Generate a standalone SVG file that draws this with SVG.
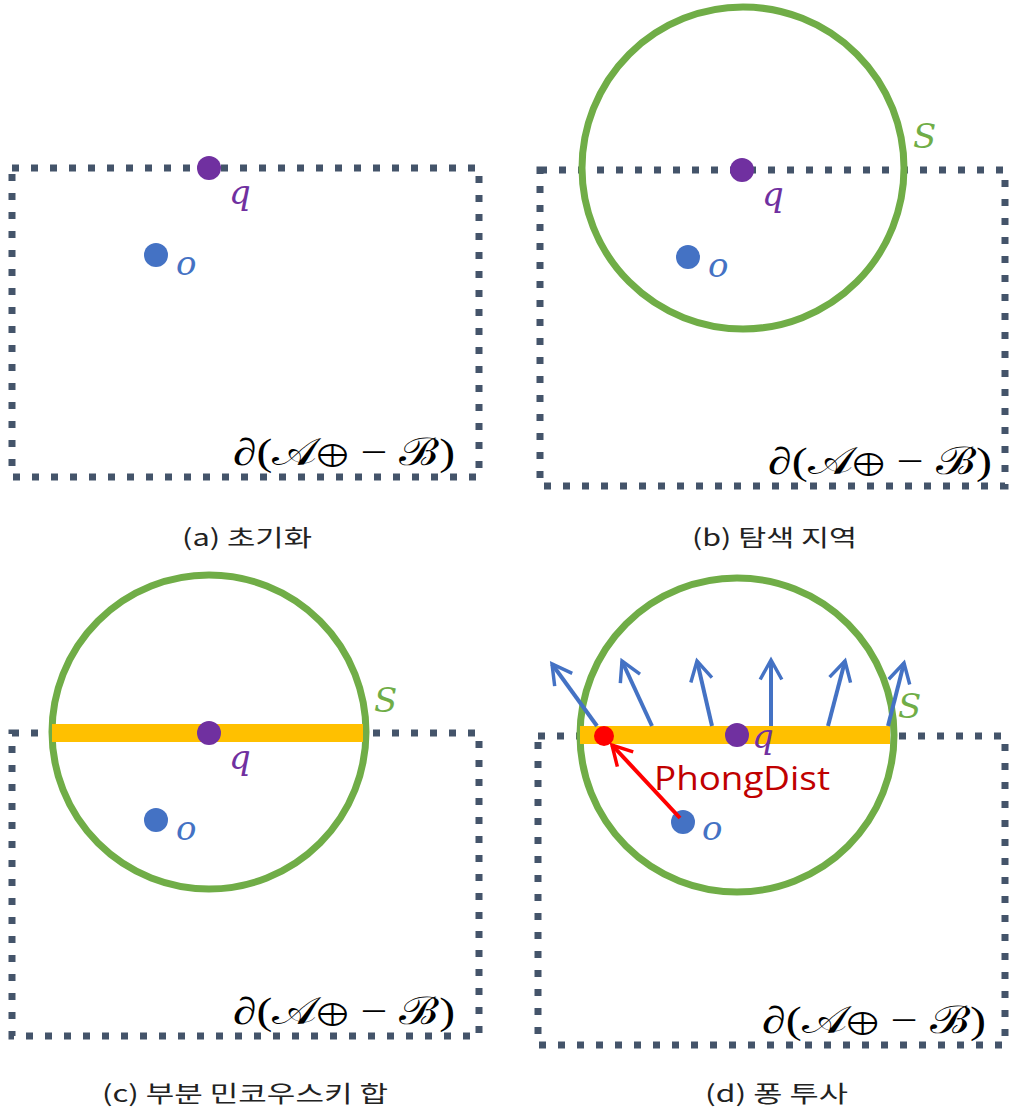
<svg xmlns="http://www.w3.org/2000/svg" width="1020" height="1112" viewBox="0 0 1020 1112">
<defs>
<style>
.box{fill:none;stroke:#44546A;stroke-width:7;stroke-dasharray:7 12}
.circ{fill:none;stroke:#70AD47;stroke-width:7}
.bar{fill:#FFC000}
.qdot{fill:#7030A0}
.odot{fill:#4472C4}
.mi{font-family:"DejaVu Serif","Liberation Serif",serif;font-style:italic;font-size:34px}
.ql{fill:#7030A0}
.ol{fill:#4472C4}
.sl{fill:#70AD47}
.math{font-family:"Liberation Serif","DejaVu Serif",serif;font-size:38px;font-weight:normal;fill:#000}
.lt{font-family:"DejaVu Sans","Liberation Serif",serif;font-weight:200}
.cap{font-family:"Noto Sans CJK KR","Noto Sans",sans-serif;font-size:23px;fill:#222}
.nrm{fill:none;stroke:#4472C4;stroke-width:4}
.red{fill:none;stroke:#FF0000;stroke-width:4}
</style>
<marker id="ab" viewBox="0 0 12 12" refX="10" refY="6" markerWidth="6.5" markerHeight="6.5" orient="auto" markerUnits="strokeWidth">
<path d="M1,1 L10,6 L1,11" fill="none" stroke="#4472C4" stroke-width="1.6"/>
</marker>
<marker id="ar" viewBox="0 0 12 12" refX="10" refY="6" markerWidth="6.5" markerHeight="6.5" orient="auto" markerUnits="strokeWidth">
<path d="M1,1 L10,6 L1,11" fill="none" stroke="#FF0000" stroke-width="1.6"/>
</marker>
</defs>
<rect width="1020" height="1112" fill="#fff"/>

<!-- (a) -->
<g id="panel-a">
<rect class="box" x="12" y="168" width="467" height="309"/>
<g id="a-q"><circle class="qdot" cx="209" cy="168" r="12"/><text class="mi ql" x="229" y="204">q</text></g>
<g id="a-o"><circle class="odot" cx="156" cy="255" r="12"/><text class="mi ol" x="176" y="275">o</text></g>
<text class="math" x="233" y="465" textLength="222" lengthAdjust="spacingAndGlyphs">∂(<tspan class="lt">𝒜⊕</tspan> − <tspan class="lt">ℬ</tspan>)</text>
<text class="cap" x="182" y="546" textLength="130" lengthAdjust="spacingAndGlyphs">(a)  초기화</text>
</g>

<!-- (b) -->
<g id="panel-b">
<rect class="box" x="540" y="170" width="465" height="316"/>
<circle class="circ" cx="743" cy="168" r="161"/>
<g id="b-q"><circle class="qdot" cx="742" cy="170" r="12"/><text class="mi ql" x="762" y="206">q</text></g>
<g id="b-o"><circle class="odot" cx="688" cy="257" r="12"/><text class="mi ol" x="708" y="277">o</text></g>
<g id="b-S"><text class="mi sl" x="913" y="148">S</text></g>
<text class="math" x="768" y="474" textLength="224" lengthAdjust="spacingAndGlyphs">∂(<tspan class="lt">𝒜⊕</tspan> − <tspan class="lt">ℬ</tspan>)</text>
<text class="cap" x="692" y="546" textLength="165" lengthAdjust="spacingAndGlyphs">(b)  탐색  지역</text>
</g>

<!-- (c) -->
<g id="panel-c">
<rect class="box" x="12" y="733" width="467" height="303"/>
<circle class="circ" cx="209" cy="732" r="157"/>
<rect class="bar" x="52" y="724" width="311" height="18"/>
<g id="c-q"><circle class="qdot" cx="209" cy="733" r="12"/><text class="mi ql" x="229" y="769">q</text></g>
<g id="c-o"><circle class="odot" cx="156" cy="820" r="12"/><text class="mi ol" x="176" y="840">o</text></g>
<g id="c-S"><text class="mi sl" x="374" y="712">S</text></g>
<text class="math" x="233" y="1024" textLength="222" lengthAdjust="spacingAndGlyphs">∂(<tspan class="lt">𝒜⊕</tspan> − <tspan class="lt">ℬ</tspan>)</text>
<text class="cap" x="102" y="1102" textLength="286" lengthAdjust="spacingAndGlyphs">(c)  부분  민코우스키  합</text>
</g>

<!-- (d) -->
<g id="panel-d">
<rect class="box" x="538" y="736" width="467" height="309"/>
<circle class="circ" cx="737" cy="735" r="157"/>
<rect class="bar" x="580" y="726" width="310" height="18"/>
<g id="d-S"><text class="mi sl" x="898" y="718">S</text></g>
<g id="d-q"><circle class="qdot" cx="737" cy="735" r="12"/><text class="mi ql" x="752" y="748">q</text></g>
<g id="d-o"><circle class="odot" cx="683" cy="822" r="12"/><text class="mi ol" x="702" y="840">o</text></g>
<g id="d-p"><circle fill="#FF0000" cx="604" cy="736" r="10"/></g>
<text x="654" y="790" font-family="'Open Sans','Liberation Sans',sans-serif" font-size="32" fill="#C00000" textLength="176" lengthAdjust="spacingAndGlyphs">PhongDist</text>
<text class="math" x="762" y="1033" textLength="224" lengthAdjust="spacingAndGlyphs">∂(<tspan class="lt">𝒜⊕</tspan> − <tspan class="lt">ℬ</tspan>)</text>
<text class="cap" x="705" y="1102" textLength="143" lengthAdjust="spacingAndGlyphs">(d)  퐁  투사</text>
</g>

<g id="connectors">
<line class="nrm" x1="597" y1="726" x2="552" y2="664" marker-end="url(#ab)"/>
<line class="nrm" x1="652" y1="726" x2="622" y2="661" marker-end="url(#ab)"/>
<line class="nrm" x1="712" y1="726" x2="697" y2="661" marker-end="url(#ab)"/>
<line class="nrm" x1="771" y1="726" x2="771" y2="660" marker-end="url(#ab)"/>
<line class="nrm" x1="828" y1="726" x2="845" y2="661" marker-end="url(#ab)"/>
<line class="nrm" x1="888" y1="726" x2="904" y2="663" marker-end="url(#ab)"/>
<line class="red" x1="680" y1="818" x2="612" y2="745" marker-end="url(#ar)"/>
</g>
</svg>
